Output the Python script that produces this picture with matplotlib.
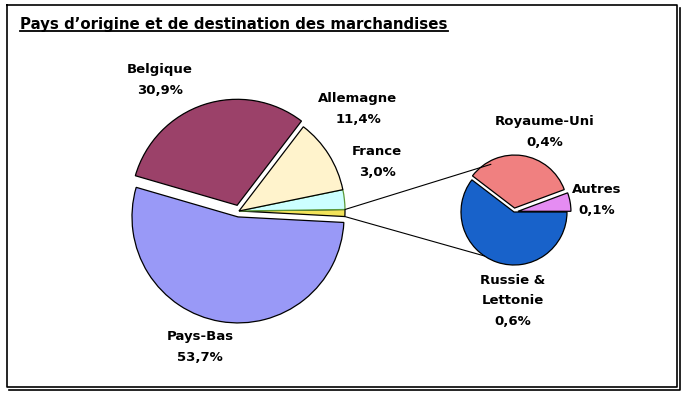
import numpy as np
import matplotlib.pyplot as plt
from matplotlib.lines import Line2D

# main pie (counter-clockwise from the right): the "Autres" group first
main_names = ['', 'France', 'Allemagne', 'Belgique', 'Pays-Bas']
main_vals = [1.06, 3.0, 11.4, 30.9, 53.7]
main_cols = ['#F2E35A', '#CCFFFF', '#FFF3CC', '#9B4169', '#9999F7']
main_edge = ['black', '#5A9A3A', 'black', 'black', 'black']
main_explode = [0, 0, 0, 6, 6]   # pie offsets are in data units here (px)

# breakdown of the "Autres" group
sub_names = ['Autres', 'Royaume-Uni', 'Russie &\nLettonie']
sub_vals = [0.06, 0.36, 0.64]
sub_cols = ['#E58CF2', '#F08080', '#1862CA']
sub_explode = [4, 4, 0]

W, H = 687, 397

def pct(v):
    return ('%.1f%%' % v).replace('.', ',')

fig = plt.figure(figsize=(W / 100, H / 100), dpi=100)
ax = fig.add_axes([0, 0, 1, 1])

c1 = (239, H - 211)
r1 = 106
wed1, _ = ax.pie(main_vals, colors=main_cols, startangle=-3, radius=r1, center=c1,
                 explode=main_explode, wedgeprops=dict(linewidth=0.9, edgecolor='black'),
                 frame=True)
for w, ec in zip(wed1, main_edge):
    w.set_edgecolor(ec)

c2 = (514, H - 212)
r2 = 53
wed2, _ = ax.pie(sub_vals, colors=sub_cols, startangle=0, radius=r2, center=c2,
                 explode=sub_explode, wedgeprops=dict(linewidth=0.9, edgecolor='black'),
                 frame=True)
ax.set_xlim(0, W)
ax.set_ylim(0, H)
ax.set_aspect('equal')
ax.axis('off')

# connector lines from the small slice to the secondary pie
yw = wed1[0]
for th, th2 in [(yw.theta2, 116), (yw.theta1, 236)]:
    x0 = yw.center[0] + yw.r * np.cos(np.radians(th))
    y0 = yw.center[1] + yw.r * np.sin(np.radians(th))
    x1 = c2[0] + r2 * np.cos(np.radians(th2))
    y1 = c2[1] + r2 * np.sin(np.radians(th2))
    ax.add_line(Line2D([x0, x1], [y0, y1], color='black', lw=0.8))

fnt = dict(fontsize=9.5, fontweight='bold', ha='center', va='center',
           family='DejaVu Sans', linespacing=1.75)
lab_pos = {'Belgique': (160, 80), 'Allemagne': (358, 109), 'France': (377, 162),
           'Pays-Bas': (200, 347), 'Royaume-Uni': (545, 132), 'Autres': (597, 200),
           'Russie &\nLettonie': (513, 301)}
for n, v in zip(main_names + sub_names, main_vals + sub_vals):
    if n == '':
        continue
    x, y = lab_pos[n]
    ax.text(x, H - y, n + '\n' + pct(v), **fnt)

t = ax.text(20, H - 24, "Pays d\u2019origine et de destination des marchandises",
            fontsize=10.8, fontweight='bold', ha='left', va='center', family='DejaVu Sans')
fig.canvas.draw()
bb = t.get_window_extent().transformed(ax.transData.inverted())
ax.add_line(Line2D([bb.x0, bb.x1], [bb.y0 + 1, bb.y0 + 1], color='black', lw=1.3))

# frame with shadow
ax.add_line(Line2D([7, 677, 677, 7, 7], [H - 5, H - 5, H - 387, H - 387, H - 5],
                   color='black', lw=1.2))
ax.add_line(Line2D([9, 680, 680], [H - 390, H - 390, H - 8], color='black', lw=1.2))

fig.savefig('out.png', dpi=100)
